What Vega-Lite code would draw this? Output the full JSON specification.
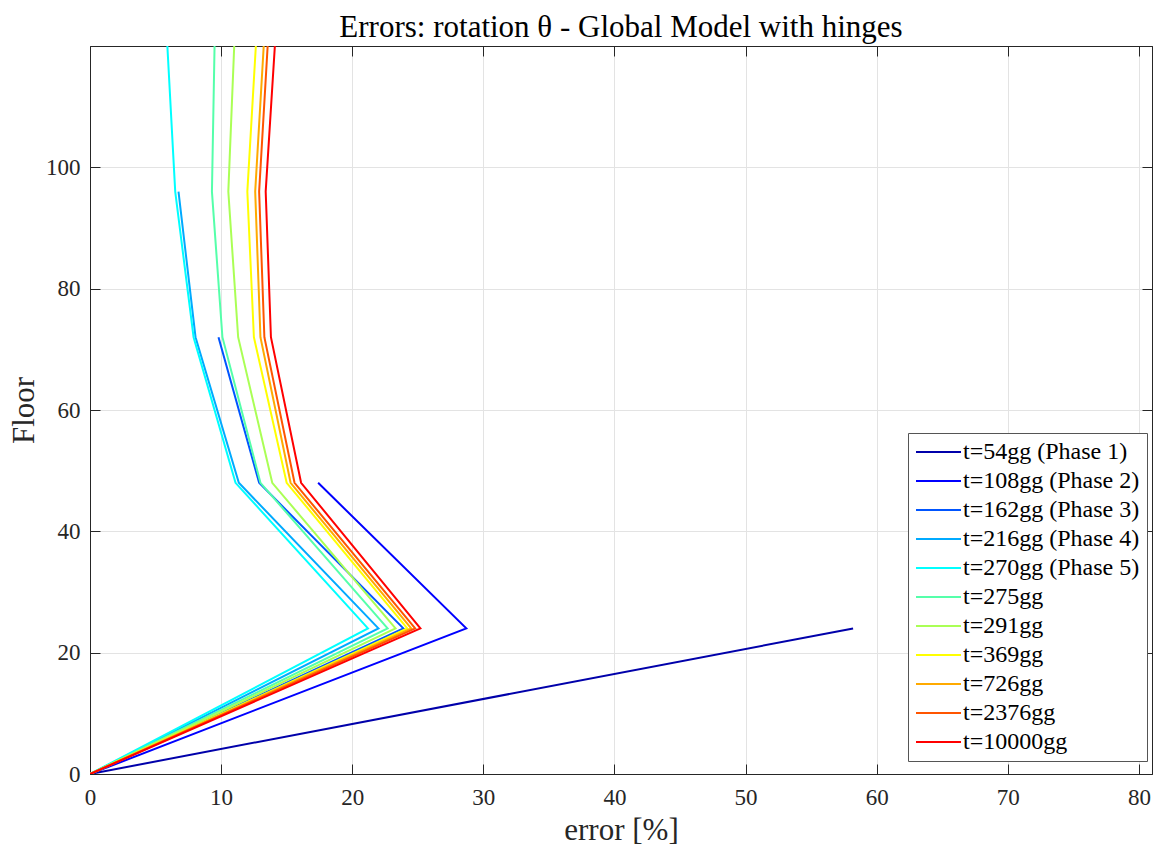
{
  "$schema": "https://vega.github.io/schema/vega-lite/v6.json",
  "width": 1062,
  "height": 728,
  "autosize": {"type": "none"},
  "padding": {"left": 90, "top": 46, "right": 2, "bottom": 77},
  "background": "white",
  "title": {
    "text": "Errors: rotation θ - Global Model with hinges",
    "font": "Liberation Serif",
    "fontSize": 31,
    "fontWeight": "normal",
    "color": "black",
    "anchor": "middle",
    "baseline": "alphabetic",
    "offset": -25
  },
  "config": {
    "view": {"stroke": "#262626", "strokeWidth": 1},
    "font": "Liberation Serif"
  },
  "data": {
    "values": [
      {"series": "t=54gg (Phase 1)", "floor": 0, "err": 0},
      {"series": "t=54gg (Phase 1)", "floor": 24, "err": 58.2},

      {"series": "t=108gg (Phase 2)", "floor": 0, "err": 0},
      {"series": "t=108gg (Phase 2)", "floor": 24, "err": 28.7},
      {"series": "t=108gg (Phase 2)", "floor": 48, "err": 17.4},

      {"series": "t=162gg (Phase 3)", "floor": 0, "err": 0},
      {"series": "t=162gg (Phase 3)", "floor": 24, "err": 23.9},
      {"series": "t=162gg (Phase 3)", "floor": 48, "err": 12.9},
      {"series": "t=162gg (Phase 3)", "floor": 72, "err": 9.8},

      {"series": "t=216gg (Phase 4)", "floor": 0, "err": 0},
      {"series": "t=216gg (Phase 4)", "floor": 24, "err": 22.0},
      {"series": "t=216gg (Phase 4)", "floor": 48, "err": 11.35},
      {"series": "t=216gg (Phase 4)", "floor": 72, "err": 8.05},
      {"series": "t=216gg (Phase 4)", "floor": 96, "err": 6.75},

      {"series": "t=270gg (Phase 5)", "floor": 0, "err": 0},
      {"series": "t=270gg (Phase 5)", "floor": 24, "err": 21.2},
      {"series": "t=270gg (Phase 5)", "floor": 48, "err": 11.1},
      {"series": "t=270gg (Phase 5)", "floor": 72, "err": 7.9},
      {"series": "t=270gg (Phase 5)", "floor": 96, "err": 6.5},
      {"series": "t=270gg (Phase 5)", "floor": 120, "err": 5.9},

      {"series": "t=275gg", "floor": 0, "err": 0},
      {"series": "t=275gg", "floor": 24, "err": 22.7},
      {"series": "t=275gg", "floor": 48, "err": 13.0},
      {"series": "t=275gg", "floor": 72, "err": 10.1},
      {"series": "t=275gg", "floor": 96, "err": 9.3},
      {"series": "t=275gg", "floor": 120, "err": 9.5},

      {"series": "t=291gg", "floor": 0, "err": 0},
      {"series": "t=291gg", "floor": 24, "err": 23.3},
      {"series": "t=291gg", "floor": 48, "err": 13.9},
      {"series": "t=291gg", "floor": 72, "err": 11.3},
      {"series": "t=291gg", "floor": 96, "err": 10.55},
      {"series": "t=291gg", "floor": 120, "err": 11.0},

      {"series": "t=369gg", "floor": 0, "err": 0},
      {"series": "t=369gg", "floor": 24, "err": 24.2},
      {"series": "t=369gg", "floor": 48, "err": 15.0},
      {"series": "t=369gg", "floor": 72, "err": 12.5},
      {"series": "t=369gg", "floor": 96, "err": 12.0},
      {"series": "t=369gg", "floor": 120, "err": 12.65},

      {"series": "t=726gg", "floor": 0, "err": 0},
      {"series": "t=726gg", "floor": 24, "err": 24.5},
      {"series": "t=726gg", "floor": 48, "err": 15.3},
      {"series": "t=726gg", "floor": 72, "err": 13.0},
      {"series": "t=726gg", "floor": 96, "err": 12.6},
      {"series": "t=726gg", "floor": 120, "err": 13.25},

      {"series": "t=2376gg", "floor": 0, "err": 0},
      {"series": "t=2376gg", "floor": 24, "err": 24.8},
      {"series": "t=2376gg", "floor": 48, "err": 15.6},
      {"series": "t=2376gg", "floor": 72, "err": 13.3},
      {"series": "t=2376gg", "floor": 96, "err": 12.9},
      {"series": "t=2376gg", "floor": 120, "err": 13.55},

      {"series": "t=10000gg", "floor": 0, "err": 0},
      {"series": "t=10000gg", "floor": 24, "err": 25.2},
      {"series": "t=10000gg", "floor": 48, "err": 16.1},
      {"series": "t=10000gg", "floor": 72, "err": 13.8},
      {"series": "t=10000gg", "floor": 96, "err": 13.4},
      {"series": "t=10000gg", "floor": 120, "err": 14.1}
    ]
  },
  "layer": [
    {
      "mark": {"type": "line", "strokeWidth": 2, "clip": true},
      "encoding": {
        "x": {
          "field": "err",
          "type": "quantitative",
          "scale": {"domain": [0, 81], "nice": false, "zero": false},
          "axis": {
            "title": "error [%]",
            "values": [0, 10, 20, 30, 40, 50, 60, 70, 80],
            "grid": true,
            "gridColor": "#e3e3e3",
            "domainColor": "#262626",
            "tickColor": "#262626",
            "tickSize": -10,
            "labelFlush": false,
            "labelPadding": 22,
            "labelFontSize": 23,
            "labelFont": "Liberation Serif",
            "labelColor": "#262626",
            "titleFont": "Liberation Serif",
            "titleFontSize": 31,
            "titleFontWeight": "normal",
            "titleColor": "#262626",
            "titlePadding": 6
          }
        },
        "y": {
          "field": "floor",
          "type": "quantitative",
          "scale": {"domain": [0, 120], "nice": false},
          "axis": {
            "title": "Floor",
            "values": [0, 20, 40, 60, 80, 100],
            "grid": true,
            "gridColor": "#e3e3e3",
            "domainColor": "#262626",
            "tickColor": "#262626",
            "tickSize": -10,
            "labelFlush": false,
            "labelPadding": 20,
            "labelFontSize": 23,
            "labelFont": "Liberation Serif",
            "labelColor": "#262626",
            "titleFont": "Liberation Serif",
            "titleFontSize": 31,
            "titleFontWeight": "normal",
            "titleColor": "#262626",
            "titlePadding": 5
          }
        },
        "order": {"field": "floor", "type": "quantitative"},
        "color": {
          "field": "series",
          "type": "nominal",
          "sort": null,
          "scale": {
            "domain": ["t=54gg (Phase 1)", "t=108gg (Phase 2)", "t=162gg (Phase 3)", "t=216gg (Phase 4)", "t=270gg (Phase 5)", "t=275gg", "t=291gg", "t=369gg", "t=726gg", "t=2376gg", "t=10000gg"],
            "range": ["#0000AA", "#0000FF", "#0055FF", "#00AAFF", "#00FFFF", "#55FFAA", "#AAFF55", "#FFFF00", "#FFAA00", "#FF5500", "#FF0000"]
          },
          "legend": {
            "title": null,
            "orient": "none",
            "legendX": 818,
            "legendY": 387,
            "symbolType": "stroke",
            "symbolSize": 2025,
            "symbolStrokeWidth": 2,
            "clipHeight": 24,
            "rowPadding": 5,
            "labelOffset": 1,
            "labelLimit": 400,
            "labelFont": "Liberation Serif",
            "labelFontSize": 24,
            "labelColor": "black",
            "padding": 7,
            "strokeColor": "#555555",
            "fillColor": "white"
          }
        }
      }
    },
    {
      "mark": {"type": "point", "opacity": 0},
      "encoding": {
        "x": {
          "field": "err",
          "type": "quantitative",
          "axis": {
            "orient": "top",
            "title": null,
            "labels": false,
            "values": [0, 10, 20, 30, 40, 50, 60, 70, 80],
            "grid": false,
            "domainColor": "#262626",
            "tickColor": "#262626",
            "tickSize": -10
          }
        },
        "y": {
          "field": "floor",
          "type": "quantitative",
          "axis": {
            "orient": "right",
            "title": null,
            "labels": false,
            "values": [0, 20, 40, 60, 80, 100],
            "grid": false,
            "domainColor": "#262626",
            "tickColor": "#262626",
            "tickSize": -10
          }
        }
      }
    }
  ],
  "resolve": {"axis": {"x": "independent", "y": "independent"}}
}
